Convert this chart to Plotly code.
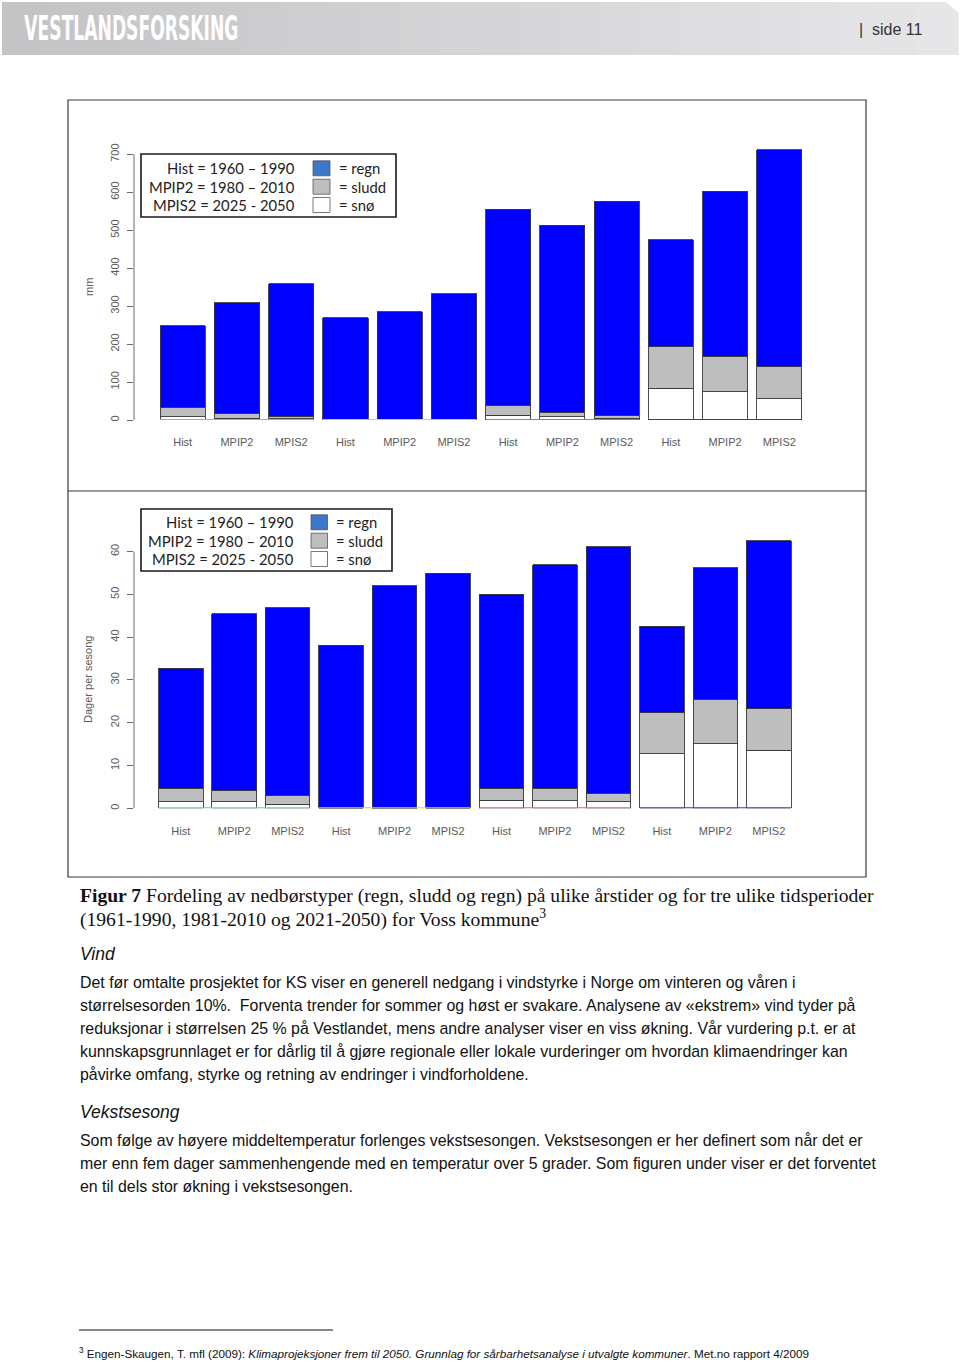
import plotly.graph_objects as go

# ---------------- data ----------------
periods = ["Hist", "MPIP2", "MPIS2"]
n_groups = 4
bar_labels = periods * n_groups
group_line_colors = ["#7ACC7A", "#E6CF3A", "#D06A6A", "#3A3A99"]

# top panel: mm per season
sno_mm = [8, 5, 3, 0, 0, 0, 13, 8, 5, 83, 75, 56]
sludd_mm = [25, 12, 7, 0, 0, 0, 24, 12, 6, 110, 93, 84]
regn_mm = [215, 292, 349, 270, 285, 333, 518, 493, 565, 282, 435, 572]
ticks_mm = [0, 100, 200, 300, 400, 500, 600, 700]

# bottom panel: days per season
sno_d = [1.5, 1.5, 0.9, 0, 0, 0, 1.9, 1.8, 1.5, 12.8, 15.1, 13.6]
sludd_d = [3.2, 2.6, 2.0, 0, 0, 0, 2.8, 2.9, 2.0, 9.5, 10.4, 9.7]
regn_d = [28.0, 41.4, 44.0, 38.1, 52.0, 54.9, 45.3, 52.2, 57.6, 20.2, 30.7, 39.3]
ticks_d = [0, 10, 20, 30, 40, 50, 60]

legend_periods = ["Hist = 1960 \u2013 1990", "MPIP2 = 1980 \u2013 2010", "MPIS2 = 2025 - 2050"]
legend_types = ["= regn", "= sludd", "= sn\u00f8"]
legend_swatch = ["#3F78C8", "#BEBEBE", "#FFFFFF"]

# ---------------- layout helpers (pixel -> paper) ----------------
W, H = 960, 1362
def px(x):
    return x / W
def py(y):
    return 1 - y / H

BLUE = "#0000FF"
GRAY = "#BEBEBE"
WHITE = "#FFFFFF"
BAR_W = 1 / 1.2
xs = list(range(len(bar_labels)))

fig = go.Figure()

panels = [
    ("x", "y", sno_mm, sludd_mm, regn_mm),
    ("x2", "y2", sno_d, sludd_d, regn_d),
]
for xa, ya, sno, sludd, regn in panels:
    for vals, col in [(sno, WHITE), (sludd, GRAY), (regn, BLUE)]:
        fig.add_trace(go.Bar(
            x=xs, y=vals, width=BAR_W, xaxis=xa, yaxis=ya,
            marker=dict(color=col, line=dict(color="#3a3a3a", width=0.9)),
            showlegend=False, hoverinfo="skip"))
    for g in range(n_groups):
        x0 = 3 * g - BAR_W / 2
        x1 = 3 * g + 2 + BAR_W / 2
        fig.add_trace(go.Scatter(
            x=[x0, x1], y=[0, 0], mode="lines", xaxis=xa, yaxis=ya,
            line=dict(color=group_line_colors[g], width=2),
            showlegend=False, hoverinfo="skip"))

AX_X = 134
DOM_R = 845
top = dict(c0=182.7, pitch=54.24, y0=420.0, k=0.3796, ytop=140)
bot = dict(c0=180.8, pitch=53.45, y0=808.3, k=4.278, ytop=520)

def xrange_for(p):
    return [(AX_X - p["c0"]) / p["pitch"], (DOM_R - p["c0"]) / p["pitch"]]

def yrange_for(p):
    return [0, (p["y0"] - p["ytop"]) / p["k"]]

tick_font = dict(family="Liberation Sans, Arial, sans-serif", size=11, color="#5a5a5a")

def xaxis_cfg(p):
    return dict(domain=[px(AX_X), px(DOM_R)], range=xrange_for(p),
                tickmode="array", tickvals=xs, ticktext=bar_labels,
                ticks="outside", ticklen=12, tickcolor="rgba(0,0,0,0)",
                showgrid=False, zeroline=False, showline=False,
                tickfont=tick_font, fixedrange=True, automargin=False)

def yaxis_cfg(p, ticks, xanchor):
    return dict(domain=[py(p["y0"]), py(p["ytop"])], range=yrange_for(p),
                tickmode="array", tickvals=ticks, ticks="outside", ticklen=6,
                tickcolor="#6a6a6a", tickwidth=1, tickangle=-90,
                ticklabelstandoff=4,
                showgrid=False, zeroline=False, showline=False,
                tickfont=tick_font, anchor=xanchor, fixedrange=True,
                automargin=False)

fig.update_layout(
    width=W, height=H,
    margin=dict(l=0, r=0, t=0, b=0),
    paper_bgcolor="white", plot_bgcolor="rgba(0,0,0,0)",
    barmode="stack", bargap=0,
    xaxis=dict(**xaxis_cfg(top), anchor="y"),
    yaxis=yaxis_cfg(top, ticks_mm, "x"),
    xaxis2=dict(**xaxis_cfg(bot), anchor="y2"),
    yaxis2=yaxis_cfg(bot, ticks_d, "x2"),
    showlegend=False,
)

shapes = []
annotations = []

# ---------- header banner ----------
n_strips = 24
x_start, x_end = 2, 958
sw = (x_end - x_start) / n_strips
for i in range(n_strips):
    t = i / (n_strips - 1)
    c = int(196 + t * (230 - 196))
    shapes.append(dict(type="rect", xref="paper", yref="paper",
                       x0=px(x_start + i * sw), x1=px(x_start + (i + 1) * sw + 0.6),
                       y0=py(55), y1=py(2), fillcolor=f"rgb({c},{c},{c+2})",
                       line=dict(width=0), layer="below"))
shapes.append(dict(type="path", xref="paper", yref="paper",
                   path=f"M {px(945)},{py(1)} L {px(960)},{py(1)} L {px(960)},{py(14)} Z",
                   fillcolor="white", line=dict(width=0), layer="below"))
annotations.append(dict(text="<b>VESTLANDSFORSKING</b>", x=px(131.5), y=py(28),
                        xref="paper", yref="paper", xanchor="center", yanchor="middle",
                        showarrow=False,
                        font=dict(family="DejaVu Sans Condensed, Liberation Sans Narrow, sans-serif",
                                  size=33, color="white")))
annotations.append(dict(text="|  side 11", x=px(857), y=py(29),
                        xref="paper", yref="paper", xanchor="left", yanchor="middle",
                        showarrow=False,
                        font=dict(family="Liberation Sans, Arial, sans-serif", size=16, color="#333333")))

# ---------- chart frames ----------
shapes.append(dict(type="rect", xref="paper", yref="paper",
                   x0=px(68), x1=px(866), y0=py(877), y1=py(100),
                   line=dict(color="#3a3a3a", width=1.2), fillcolor="rgba(0,0,0,0)"))
shapes.append(dict(type="line", xref="paper", yref="paper",
                   x0=px(68), x1=px(866), y0=py(491), y1=py(491),
                   line=dict(color="#3a3a3a", width=1.2)))

for yref, ticks in [("y", ticks_mm), ("y2", ticks_d)]:
    shapes.append(dict(type="line", xref="paper", yref=yref,
                       x0=px(AX_X), x1=px(AX_X), y0=ticks[0], y1=ticks[-1],
                       line=dict(color="#6a6a6a", width=1)))

annotations.append(dict(text="mm", x=px(89), y=py(287), xref="paper", yref="paper",
                        textangle=-90, showarrow=False, xanchor="center", yanchor="middle",
                        font=dict(family="Liberation Sans, Arial, sans-serif", size=11, color="#5a5a5a")))
annotations.append(dict(text="Dager per sesong", x=px(88), y=py(680), xref="paper", yref="paper",
                        textangle=-90, showarrow=False, xanchor="center", yanchor="middle",
                        font=dict(family="Liberation Sans, Arial, sans-serif", size=11, color="#5a5a5a")))

# ---------- custom legends ----------
def add_legend(box, rows_y, text_right, sw_x0, sw_x1, lab_x):
    shapes.append(dict(type="rect", xref="paper", yref="paper",
                       x0=px(box[0]), x1=px(box[2]), y0=py(box[3]), y1=py(box[1]),
                       line=dict(color="#1a1a1a", width=1.6), fillcolor="white"))
    for i, yy in enumerate(rows_y):
        annotations.append(dict(text=legend_periods[i], x=px(text_right), y=py(yy),
                                xref="paper", yref="paper", xanchor="right", yanchor="middle",
                                showarrow=False,
                                font=dict(family="Lato, Open Sans, sans-serif", size=14.8, color="#222222")))
        shapes.append(dict(type="rect", xref="paper", yref="paper",
                           x0=px(sw_x0), x1=px(sw_x1), y0=py(yy + 7.5), y1=py(yy - 7.5),
                           line=dict(color="#555555", width=0.8), fillcolor=legend_swatch[i]))
        annotations.append(dict(text=legend_types[i], x=px(lab_x), y=py(yy),
                                xref="paper", yref="paper", xanchor="left", yanchor="middle",
                                showarrow=False,
                                font=dict(family="Lato, Open Sans, sans-serif", size=14.8, color="#222222")))

add_legend((141, 154, 396, 217), [168.3, 186.7, 205.0], 297, 313, 330, 337)
add_legend((141, 509, 392, 571), [522.3, 540.7, 559.0], 296, 311, 327.5, 334)

# ---------- caption & body text ----------
serif = "Liberation Serif, Times New Roman, serif"
sans = "Liberation Sans, Arial, sans-serif"

def line(text, x, y, size, family, color="#111111"):
    annotations.append(dict(text=text, x=px(x), y=py(y), xref="paper", yref="paper",
                            xanchor="left", yanchor="middle", showarrow=False,
                            font=dict(family=family, size=size, color=color)))

line("<b>Figur 7</b> Fordeling av nedbørstyper (regn, sludd og regn) på ulike årstider og for tre ulike tidsperioder",
     78, 896, 19.6, serif)
line("(1961-1990, 1981-2010 og 2021-2050) for Voss kommune<sup>3</sup>", 78, 918, 19.6, serif)
line("<i>Vind</i>", 78, 954, 17.5, sans)

para1 = [
    "Det før omtalte prosjektet for KS viser en generell nedgang i vindstyrke i Norge om vinteren og våren i",
    "størrelsesorden 10%.  Forventa trender for sommer og høst er svakare. Analysene av «ekstrem» vind tyder på",
    "reduksjonar i størrelsen 25 % på Vestlandet, mens andre analyser viser en viss økning. Vår vurdering p.t. er at",
    "kunnskapsgrunnlaget er for dårlig til å gjøre regionale eller lokale vurderinger om hvordan klimaendringer kan",
    "påvirke omfang, styrke og retning av endringer i vindforholdene.",
]
for i, t in enumerate(para1):
    line(t, 78, 982 + 23 * i, 15.9, sans)

line("<i>Vekstsesong</i>", 78, 1112, 17.5, sans)
para2 = [
    "Som følge av høyere middeltemperatur forlenges vekstsesongen. Vekstsesongen er her definert som når det er",
    "mer enn fem dager sammenhengende med en temperatur over 5 grader. Som figuren under viser er det forventet",
    "en til dels stor økning i vekstsesongen.",
]
for i, t in enumerate(para2):
    line(t, 78, 1140 + 23 * i, 15.9, sans)

shapes.append(dict(type="line", xref="paper", yref="paper",
                   x0=px(79), x1=px(333), y0=py(1330), y1=py(1330),
                   line=dict(color="#111111", width=1)))
line("<sup>3</sup> Engen-Skaugen, T. mfl (2009): <i>Klimaprojeksjoner frem til 2050. Grunnlag for sårbarhetsanalyse i utvalgte kommuner</i>. Met.no rapport 4/2009",
     77, 1353, 11.7, sans)

fig.update_layout(shapes=shapes, annotations=annotations)

post = """
document.body.style.margin = '0';
document.body.style.overflow = 'hidden';
var txts = document.querySelectorAll('text');
txts.forEach(function(t){
  if (t.textContent === 'VESTLANDSFORSKING') {
    t.setAttribute('textLength', '214');
    t.setAttribute('lengthAdjust', 'spacingAndGlyphs');
  }
});
"""
fig.write_html("out.html", post_script=post, config={"displayModeBar": False, "staticPlot": True})
